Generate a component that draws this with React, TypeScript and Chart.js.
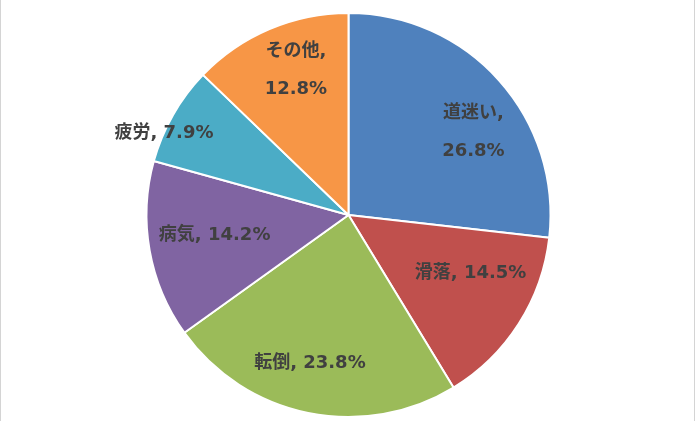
import { Chart, registerables } from 'chart.js';
import { useEffect, useRef } from 'react';

Chart.register(...registerables);

// 遭難の原因別割合（%）
const categories = ['道迷い', '滑落', '転倒', '病気', '疲労', 'その他'];
const shares = [26.8, 14.5, 23.8, 14.2, 7.9, 12.8];
const colors = ['#4F81BD', '#C0504D', '#9BBB59', '#8064A2', '#4BACC6', '#F79646'];

// label placement (style only): radial factor, angle tweak in degrees, two-line wrap
const labelRadius = [0.74, 0.67, 0.757, 0.67, 1.0, 0.76];
const labelShift = [8.4, -7, 3.1, 1.6, -5.7, 3];
const labelWrap = [true, false, false, false, false, true];

const FONT = 'bold 18px "DejaVu Sans", "Noto Sans CJK JP", sans-serif';

const pieLabels = {
  id: 'pieLabels',
  afterDatasetsDraw(chart: any) {
    const ctx = chart.ctx;
    const meta = chart.getDatasetMeta(0);
    ctx.save();
    ctx.font = FONT;
    ctx.fillStyle = '#404040';
    ctx.textAlign = 'center';
    ctx.textBaseline = 'middle';
    meta.data.forEach((arc: any, i: number) => {
      const { x, y, startAngle, endAngle, outerRadius } = arc.getProps(
        ['x', 'y', 'startAngle', 'endAngle', 'outerRadius'],
        true,
      );
      const mid = (startAngle + endAngle) / 2 + (labelShift[i] * Math.PI) / 180;
      const r = outerRadius * labelRadius[i];
      const lx = x + Math.cos(mid) * r;
      const ly = y + Math.sin(mid) * r;
      const pct = shares[i].toFixed(1) + '%';
      if (labelWrap[i]) {
        ctx.fillText(categories[i] + ',', lx, ly - 19);
        ctx.fillText(pct, lx, ly + 19);
      } else {
        ctx.fillText(categories[i] + ', ' + pct, lx, ly);
      }
    });
    ctx.restore();
  },
};

const App = () => {
  const ref = useRef<HTMLCanvasElement>(null);

  useEffect(() => {
    if (ref.current == null) return () => {};
    const chart = new Chart(ref.current, {
      type: 'pie',
      data: {
        labels: categories,
        datasets: [
          {
            data: shares,
            backgroundColor: colors,
            borderColor: '#ffffff',
            borderWidth: 2,
          },
        ],
      },
      options: {
        responsive: false,
        animation: false,
        radius: 202,
        layout: { padding: { left: 2, right: 0, top: 9, bottom: 0 } },
        plugins: {
          legend: { display: false },
          tooltip: { enabled: false },
        },
      } as any,
      plugins: [pieLabels],
    });
    return () => {
      chart.destroy();
    };
  }, []);

  return (
    <div
      style={{
        position: 'fixed',
        left: 0,
        top: 0,
        width: 695,
        height: 421,
        boxSizing: 'border-box',
        borderLeft: '1px solid #d4d4d4',
        borderRight: '1px solid #d4d4d4',
        background: '#fff',
      }}
    >
      <canvas ref={ref} width={693} height={421} style={{ display: 'block' }} />
    </div>
  );
};

export default App;
